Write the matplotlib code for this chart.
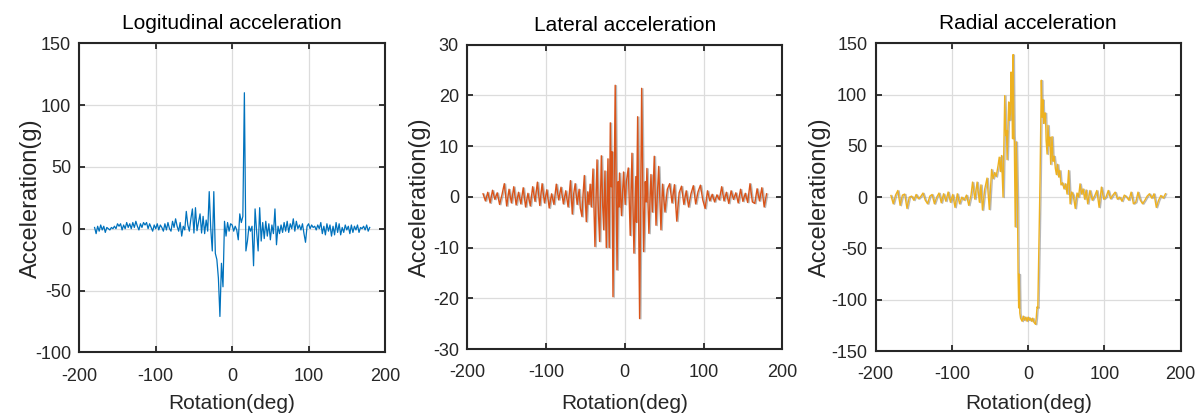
import matplotlib
matplotlib.use("Agg")
import matplotlib.pyplot as plt
import matplotlib.patheffects as pe
import numpy as np

plt.rcParams['font.family'] = ['Liberation Sans', 'DejaVu Sans']
plt.rcParams['axes.unicode_minus'] = False

# ---------------- data ----------------
# Longitudinal acceleration, sampled every 2 deg from -180 to 180
long_deg = np.arange(-180, 181, 2)
long_acc = [
    1, -4, 2, -2, 3, -1, 2, -3, 1, 0,
    -1, 1, 0, 2, 0, 4, 2, 4, -1, 3,
    0, 5, 1, 4, 0, 5, 1, 6, 2, -1,
    4, 1, 5, 3, 5, 0, 4, 1, -2, 3,
    0, 4, -1, 3, 1, -2, 4, -1, 5, 0,
    -2, 6, 1, 8, 2, -2, 5, -6, 2, -1,
    14, 3, -2, 8, 16, -3.5, 17, -1.6, 5, 12,
    -3.5, 10, -4, 7, -2, 30, 0, -18, 30, -20,
    -25, -40, -71, -28, -47, 6, -6, 5, -2, 4,
    3, -2, 2, -1, -9, 12, 5, 10, 110, -18,
    -10, 2, -2, 2, -30, 16, -2, -18, 17, -10,
    5, -8, 6, -6, 4, -9, 3, -4, 16, -13,
    2, -4, 3, -3, 5, -2, 6, -3, 4, 0,
    8, -2, 6, 0, 3, -1, 4, -4, -11, 2,
    4, 0, 3, 1, 2, -1, 3, 0, 5, -4,
    2, -5, 4, -2, 3, -6, 2, -5, 5, -3,
    4, -5, 1, -3, 3, -1, 2, -4, 3, -3,
    2, -1, 3, -3, 1, 0, 2, -1, 3, -2,
    1,
]

# Lateral acceleration: noise (3 deg steps) + central turning points
lat_left_deg = np.arange(-180, -71, 3)
lat_left_acc = [
    0.6, -0.8, 0.9, -1.2, 1.3, -0.5, 0.8, -1.5,
    0.4, 2.6, -1.8, 1.5, -1.2, 2.0, -1.6, 0.9,
    -1.4, 1.8, -2.0, 0.7, -1.8, 2.0, -0.9, 2.9,
    -1.7, 2.6, -1.2, 1.4, -2.2, 0.6, -1.5, 2.5,
    -0.6, 1.9, -1.4, 1.2, -2.0,
]
lat_mid_deg = [
    -69, -66.7, -65, -63, -60.5, -58, -56.5, -54.4, -53, -51.4,
    -48.9, -47, -45.5, -44, -42.5, -40.4, -37.9, -35.3, -33.5, -32,
    -29.8, -28, -26.8, -25.2, -23.5, -21.4, -19.8, -18.4, -17.3, -16.3,
    -15, -12.2, -9.9, -8.5, -7.5, -6.7, -4.2, -1.6, 0.5, 2,
    4.4, 6.9, 9.1, 11.6, 14, 14.8, 16.3, 18.8, 21.4, 23.9,
    26, 27, 28.1, 30.6, 33.2, 35, 37.4, 39.6, 41.5, 43,
    45.9, 48,
]
lat_mid_acc = [
    3.2, -3.4, 0.5, 2.6, -1.5, 1.5, -2.2, -3.9, 0.5, 4.2,
    -4.9, 1.0, -1.5, 2.5, -2.0, 5.5, -9.8, 7.3, -3.0, -8.8,
    8.1, -2.0, -6.5, 5.1, -10.0, 7.5, -10.0, 14.6, 2.0, 8.9,
    -19.7, 22.0, -14.4, 3.0, -2.0, 4.7, -3.7, 4.9, -1.5, 3.0,
    5.7, -7.6, 8.6, -11.1, 4.0, -5.0, 15.8, -24.0, 21.4, -10.8,
    3.0, -1.0, 5.6, -7.2, 4.4, -3.0, 8.0, -5.6, 1.0, 6.0,
    -6.5, 2.5,
]
lat_right_deg = np.arange(51, 181, 3)
lat_right_acc = [
    -3.0, 1.5, 2.6, -1.2, 2.4, -4.8, 0.8, 2.1, -1.5, 1.2,
    -2.0, 0.6, 2.2, -1.4, 1.0, 2.3, -0.6, -2.3, 1.2, -0.8,
    0.5, -1.0, 0.4, -0.6, 2.0, -0.8, 0.9, -1.3, 1.2, -0.5,
    0.8, -1.2, 1.5, -0.9, 0.7, -1.1, 2.6, -1.0, -1.3, 1.6,
    -0.8, 1.8, -2.0, 0.6,
]

# Radial acceleration: noise (3 deg steps) + central turning points
rad_left_deg = np.arange(-180, -76, 3)
rad_left_acc = [
    1.6, -6.5, 2, 6.5, -8, 2, 3, -11, 0, 1,
    -3, 2.6, -1.6, 0.6, 4, -3, -6.5, 1, 2.6, -6.5,
    0, 4, -5.5, 3.3, -4, 5, -5, 2.6, -10, 3.3,
    -6.5, 0, -3, 2, -8,
]
rad_mid_deg = [
    -75, -73, -70, -67, -64, -62, -60, -57, -54, -51,
    -48, -46, -44, -42, -39.5, -38, -36.5, -35, -33, -30.8,
    -29.5, -28.5, -27.7, -25.6, -24.5, -23.4, -22.5, -21.5, -20.5, -19.8,
    -18.7, -18.2, -17, -15.7, -14, -13.3, -12.5, -11.8, -11, -10,
    -8, -6.5, -5, -3, -1.5, 0, 1.5, 3, 4.5, 6,
    7.5, 9.6, 10.5, 11.6, 12.6, 14.2, 15.5, 17.2, 18.3, 19.3,
    20.2, 21.5, 22.6, 23.5, 24.8, 26, 27, 28.3, 29.5, 31.3,
    32.5, 34, 35.6, 37, 38.5, 40, 41.5, 43, 45, 47,
    49, 51, 53, 55, 57, 59, 61.7, 64, 66, 68,
    70, 72, 74, 76,
]
rad_mid_acc = [
    2, 14.7, -2, 14.7, -5, 12, -12.6, 8, 18.6, -12,
    27, 18, 24, 20, 31, 39, 25, 40.6, 0, 99,
    60, 65, 36.6, 92.8, 75, 81, 122, 100, 57, 139,
    60, 54, -29, 54, -10, -74, -108, -75, -113, -118,
    -121, -116, -120, -117, -121, -117, -120, -118, -121, -118,
    -122, -124, -118, -107, -108, -42, 16, 114, 78, 95,
    72, 82, 82, 55, 42, 70, 50, 58.6, 32, 59,
    35, 40, 28, 22, 32, 19.6, 26, 12, 14, 8,
    13, 3, 26, -6.5, 5, 2, -11, 4, 0, 13,
    3, 8, -2, 7,
]
rad_right_deg = np.arange(78, 181, 3)
rad_right_acc = [
    -6.5, 6.5, -3, 1, 6.5, -10, 9.8, -2, 0, 6.5,
    -1.6, 2, 4.9, -2, 0, -4, 2, 0, -3, 4.9,
    -6.5, -5, 4.9, -3, -6.5, -3, 1, 3.3, -1, 3.3,
    -10, -3, 1.6, -1, 3.3,
]

titles = ["Logitudinal acceleration", "Lateral acceleration", "Radial acceleration"]
x_ticks = [-200, -100, 0, 100, 200]
y_ticks_long = [-100, -50, 0, 50, 100, 150]
y_ticks_lat = [-30, -20, -10, 0, 10, 20, 30]
y_ticks_rad = [-150, -100, -50, 0, 50, 100, 150]

lat_deg = np.concatenate([lat_left_deg, lat_mid_deg, lat_right_deg])
lat_acc = np.concatenate([lat_left_acc, lat_mid_acc, lat_right_acc])
rad_deg = np.concatenate([rad_left_deg, rad_mid_deg, rad_right_deg])
rad_acc = np.concatenate([rad_left_acc, rad_mid_acc, rad_right_acc])
assert len(long_deg) == len(long_acc)
assert len(lat_deg) == len(lat_acc)
assert len(rad_deg) == len(rad_acc)

# ---------------- figure ----------------
W, H = 1200, 417
fig = plt.figure(figsize=(W / 100, H / 100), dpi=100)

# (left, right, top, bottom) in pixels, ylabel baseline x in px
boxes = [(79.3, 385.0, 43.3, 352.3, 41.5),
         (467.3, 782.3, 44.7, 349.0, 431.0),
         (875.7, 1180.7, 43.3, 351.0, 830.5)]

series = [(long_deg, long_acc, '#0072BD', y_ticks_long, False),
          (lat_deg, lat_acc, '#D95319', y_ticks_lat, True),
          (rad_deg, rad_acc, '#EDB120', y_ticks_rad, True)]

dark = '#262626'
for (l, r, t, b, ylx), (xd, yd, col, yt, shadow), title in zip(boxes, series, titles):
    ax = fig.add_axes([l / W, 1 - b / H, (r - l) / W, (b - t) / H])
    ax.set_xlim(-200, 200)
    ax.set_ylim(yt[0], yt[-1])
    ax.set_xticks(x_ticks)
    ax.set_yticks(yt)
    ax.grid(True, color='#dcdcdc', lw=0.9)
    ax.set_axisbelow(True)
    ax.tick_params(direction='in', length=4, width=1.3, top=True, right=True,
                   labelsize=13, colors=dark)
    ax.tick_params(axis='x', pad=11)
    ax.tick_params(axis='y', pad=6)
    for s in ax.spines.values():
        s.set_linewidth(1.5)
        s.set_color(dark)
    if shadow:
        ax.plot(xd, yd, color=col, lw=1.0,
                path_effects=[pe.SimpleLineShadow(offset=(0.9, -0.3), shadow_color='#8a8a8a', alpha=0.6),
                              pe.Normal()])
    else:
        ax.plot(xd, yd, color=col, lw=0.9)
    ax.set_title(title, fontsize=15, pad=10, color='black')
    ax.set_xlabel('Rotation(deg)', fontsize=15, color=dark)
    ax.set_ylabel('Acceleration(g)', fontsize=17, color=dark)
    ax.xaxis.set_label_coords(0.5, (b - 394) / (b - t))
    ax.yaxis.set_label_coords((ylx - l) / (r - l), 0.5)

fig.savefig('out.png', dpi=100)
